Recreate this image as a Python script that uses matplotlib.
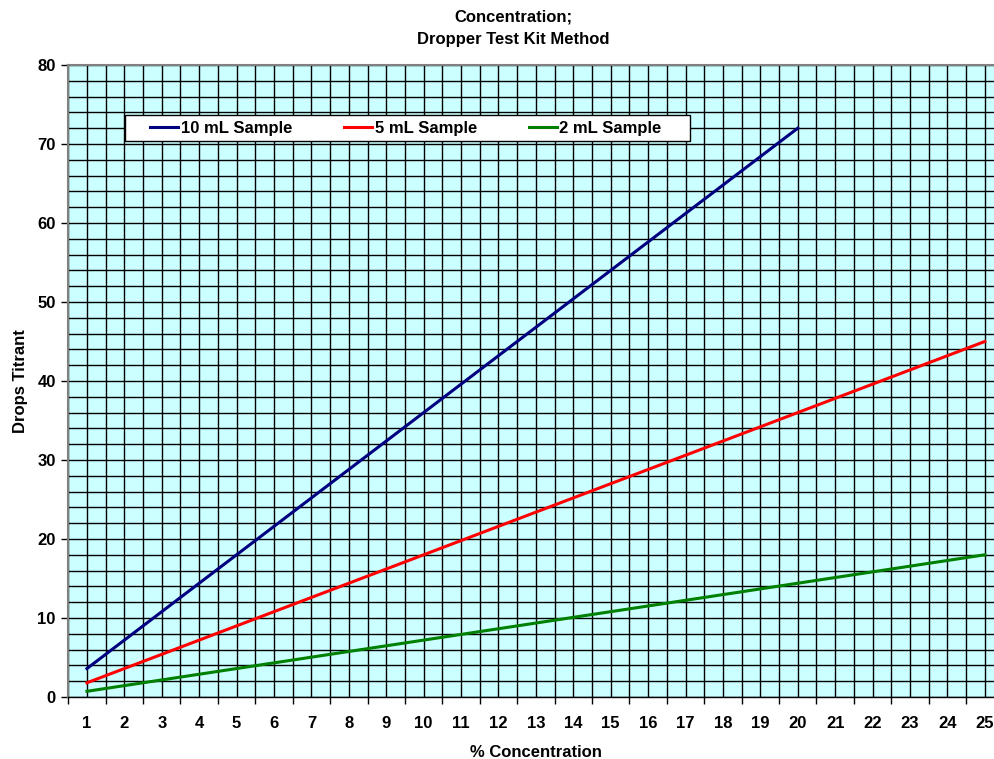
import numpy as np
import matplotlib.pyplot as plt
from matplotlib.ticker import MultipleLocator, FixedLocator
from matplotlib.patches import Rectangle

plt.rcParams['font.family'] = ['Liberation Sans', 'DejaVu Sans']
plt.rcParams['font.weight'] = 'bold'

# Data
conc = list(range(1, 26))
drops_10ml = [3.6, 7.2, 10.8, 14.4, 18.0, 21.6, 25.2, 28.8, 32.4, 36.0,
              39.6, 43.2, 46.8, 50.4, 54.0, 57.6, 61.2, 64.8, 68.4, 72.0]
drops_5ml = [1.8, 3.6, 5.4, 7.2, 9.0, 10.8, 12.6, 14.4, 16.2, 18.0,
             19.8, 21.6, 23.4, 25.2, 27.0, 28.8, 30.6, 32.4, 34.2, 36.0,
             37.8, 39.6, 41.4, 43.2, 45.0]
drops_2ml = [0.72, 1.44, 2.16, 2.88, 3.6, 4.32, 5.04, 5.76, 6.48, 7.2,
             7.92, 8.64, 9.36, 10.08, 10.8, 11.52, 12.24, 12.96, 13.68, 14.4,
             15.12, 15.84, 16.56, 17.28, 18.0]

W, H = 995, 759
fig = plt.figure(figsize=(W / 100, H / 100), dpi=100)
ax = fig.add_axes([0.0686, 0.0817, 0.940, 0.8327])
ax.set_facecolor('#CCFFFF')

# Grid: vertical every half category, horizontal every 2 drops
for xv in np.arange(0.5, 25.6, 0.5):
    ax.axvline(xv, color='black', linewidth=1.0, zorder=1)
for yv in np.arange(0, 81, 2):
    ax.axhline(yv, color='black', linewidth=1.0, zorder=1)

ax.plot(conc[:len(drops_10ml)], drops_10ml, color='#000080', linewidth=2.2, label='10 mL Sample', zorder=3)
ax.plot(conc, drops_5ml, color='#FF0000', linewidth=2.2, label='5 mL Sample', zorder=3)
ax.plot(conc, drops_2ml, color='#008000', linewidth=2.2, label='2 mL Sample', zorder=3)

ax.set_xlim(0.5, 25.5)
ax.set_ylim(0, 80)
ax.set_xticks(conc)
ax.set_xticklabels([str(c) for c in conc])
ax.xaxis.set_minor_locator(FixedLocator(np.arange(0.5, 25.6, 1.0)))
ax.tick_params(axis='x', which='major', length=0, pad=14, labelsize=12)
ax.tick_params(axis='x', which='minor', length=5, width=1, color='black')
ax.yaxis.set_major_locator(MultipleLocator(10))
ax.tick_params(axis='y', which='major', length=5, width=1, labelsize=12, pad=4)

for s in ax.spines.values():
    s.set_color('#808080')
    s.set_linewidth(1.5)
ax.spines['bottom'].set_color('black')
ax.spines['bottom'].set_linewidth(1)

ax.set_xlabel('% Concentration', fontsize=12, fontweight='bold', labelpad=10)
ax.set_ylabel('Drops Titrant', fontsize=12, fontweight='bold', labelpad=7)
fig.text(513 / W, 1 - 28 / H, 'Concentration;\nDropper Test Kit Method', ha='center', va='center',
         fontsize=12, fontweight='bold', linespacing=1.6)

# Legend box
box = Rectangle((125 / W, 1 - 141 / H), 565 / W, 26 / H, transform=fig.transFigure,
                facecolor='white', edgecolor='black', linewidth=1, zorder=4, clip_on=False)
ax.add_patch(box)
leg = ax.legend(loc='center left', bbox_to_anchor=(150 / W, 1 - 128 / H),
                bbox_transform=fig.transFigure, ncol=3, frameon=False,
                fontsize=12, handlelength=1.7, handletextpad=0.15, columnspacing=3.1,
                borderpad=0, borderaxespad=0)
for t in leg.get_texts():
    t.set_fontweight('bold')
leg.set_zorder(5)

plt.savefig('out.png', dpi=100)
